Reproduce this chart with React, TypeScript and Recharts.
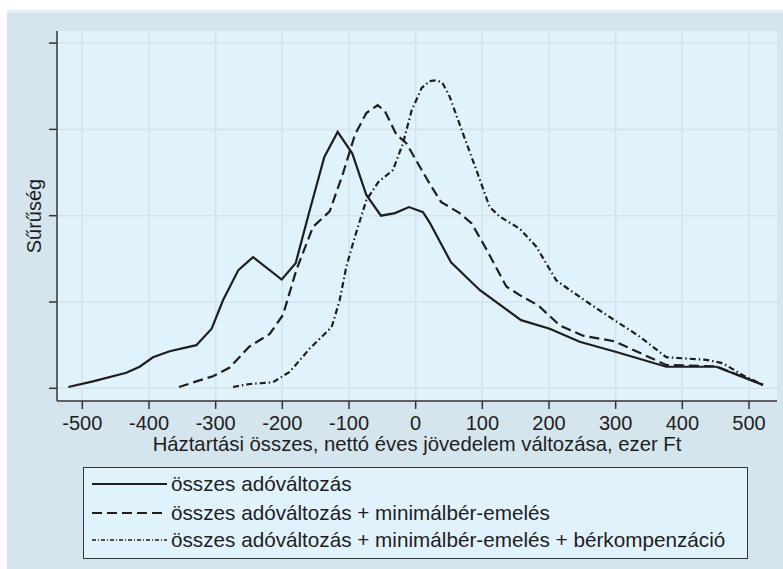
import React from 'react';
import { LineChart, Line, XAxis, YAxis, CartesianGrid } from 'recharts';

// összes adóváltozás
const adoX = [-521, -484, -434, -414, -394, -369, -329, -306, -289, -266, -244, -201, -180, -159, -137, -117, -95, -74, -52, -31, -10, 11, 21, 53, 96, 158, 201, 246, 301, 376, 451, 521];
const adoY = [0.015, 0.08, 0.18, 0.25, 0.36, 0.43, 0.5, 0.69, 1.02, 1.37, 1.52, 1.26, 1.45, 2.06, 2.68, 2.97, 2.72, 2.24, 2.0, 2.03, 2.1, 2.04, 1.92, 1.46, 1.14, 0.79, 0.69, 0.54, 0.42, 0.25, 0.25, 0.04];

// + minimálbér-emelés
const minX = [-355, -329, -304, -279, -250, -219, -199, -179, -154, -129, -109, -91, -74, -57, -46, -29, -14, 6, 21, 38, 66, 84, 104, 136, 156, 184, 216, 251, 298, 376, 451, 521];
const minY = [0.015, 0.08, 0.14, 0.24, 0.48, 0.63, 0.85, 1.37, 1.87, 2.05, 2.49, 2.94, 3.19, 3.28, 3.21, 2.94, 2.84, 2.57, 2.37, 2.16, 2.03, 1.91, 1.64, 1.18, 1.08, 0.96, 0.73, 0.61, 0.545, 0.27, 0.255, 0.04];

// + bérkompenzáció
const berX = [-274, -249, -214, -189, -159, -126, -114, -104, -91, -74, -56, -34, -19, -6, 9, 21, 31, 40, 51, 71, 91, 111, 126, 156, 181, 211, 231, 261, 298, 336, 376, 436, 461, 491, 521];
const berY = [0.015, 0.05, 0.07, 0.19, 0.46, 0.71, 1.02, 1.41, 1.76, 2.18, 2.39, 2.53, 2.84, 3.22, 3.48, 3.56, 3.57, 3.54, 3.38, 2.95, 2.53, 2.1, 1.99, 1.85, 1.64, 1.25, 1.14, 0.98, 0.79, 0.6, 0.36, 0.33, 0.29, 0.15, 0.04];

const xTicks = [-500, -400, -300, -200, -100, 0, 100, 200, 300, 400, 500];
const yTicks = [0, 1, 2, 3, 4];

const LABELS = [
  'összes adóváltozás',
  'összes adóváltozás + minimálbér-emelés',
  'összes adóváltozás + minimálbér-emelés + bérkompenzáció',
];

const toPoints = (xs: number[], ys: number[]) => xs.map((x, i) => ({ x, y: ys[i] }));

const FONT = '"Liberation Sans", Arial, sans-serif';
const INK = '#1e1e1e';
const DASHES = [undefined, '10 5', '6 3 1.5 3'];
const LEGEND_DASHES = [undefined, '10 5', '4 2 1 2'];

export default function App() {
  const series = [toPoints(adoX, adoY), toPoints(minX, minY), toPoints(berX, berY)];

  return (
    <div style={{ position: 'absolute', left: 0, top: 0, width: 783, height: 569, background: '#fff', fontFamily: FONT }}>
      <div style={{ position: 'absolute', left: 7, top: 10, width: 776, height: 559, background: '#d5e5ee', borderTop: '3px solid #e3f1f9', boxSizing: 'border-box' }} />
      <div style={{ position: 'absolute', left: 0, top: 0 }}>
        <LineChart width={783} height={569} margin={{ top: 31, right: 6, left: 0, bottom: 0 }}>
          <CartesianGrid
            fill="#e0f2fc"
            stroke="#d2e3ec"
            strokeWidth={1.5}
            horizontalValues={yTicks}
            verticalValues={xTicks}
          />
          <XAxis
            type="number"
            dataKey="x"
            domain={[-538, 542]}
            ticks={xTicks}
            allowDataOverflow
            height={168}
            tickSize={8}
            tickMargin={7}
            stroke="#333"
            strokeWidth={1.5}
            tick={{ fill: INK, fontSize: 20, fontFamily: FONT }}
            label={{
              value: 'Háztartási összes, nettó éves jövedelem változása, ezer Ft',
              position: 'insideTop',
              offset: 36,
              fill: INK,
              fontSize: 20.3,
              fontFamily: FONT,
            }}
          />
          <YAxis
            type="number"
            domain={[-0.147, 4.14]}
            ticks={yTicks}
            allowDataOverflow
            width={57}
            tickSize={8}
            stroke="#333"
            strokeWidth={1.5}
            tickFormatter={() => ''}
            label={(props: any) => {
              const vb = props.viewBox || { x: 0, y: 31, width: 57, height: 370 };
              const cx = vb.x + 41;
              const cy = vb.y + vb.height / 2;
              return (
                <text x={cx} y={cy} transform={`rotate(-90 ${cx} ${cy})`} textAnchor="middle" fill={INK} fontSize={20} fontFamily={FONT}>
                  Sűrűség
                </text>
              );
            }}
          />
          {series.map((data, i) => (
            <Line
              key={LABELS[i]}
              data={data}
              dataKey="y"
              type="linear"
              stroke={INK}
              strokeWidth={2.2}
              strokeDasharray={DASHES[i]}
              dot={false}
              activeDot={false}
              isAnimationActive={false}
            />
          ))}
        </LineChart>
      </div>
      <div style={{ position: 'absolute', left: 83, top: 467, width: 665, height: 92, boxSizing: 'border-box', border: '1px solid #333', background: '#e0f2fc' }}>
        {LABELS.map((label, i) => (
          <div key={label} style={{ position: 'absolute', left: 0, top: [16, 45, 72][i] - 14, height: 28, display: 'flex', alignItems: 'center', whiteSpace: 'nowrap' }}>
            <svg width={84} height={10} style={{ display: 'block' }}>
              <line x1={8} y1={5} x2={83} y2={5} stroke={INK} strokeWidth={i === 2 ? 1.5 : 2} strokeDasharray={LEGEND_DASHES[i]} />
            </svg>
            <span style={{ marginLeft: 3, fontSize: 20.7, color: INK, lineHeight: '28px' }}>{label}</span>
          </div>
        ))}
      </div>
    </div>
  );
}
